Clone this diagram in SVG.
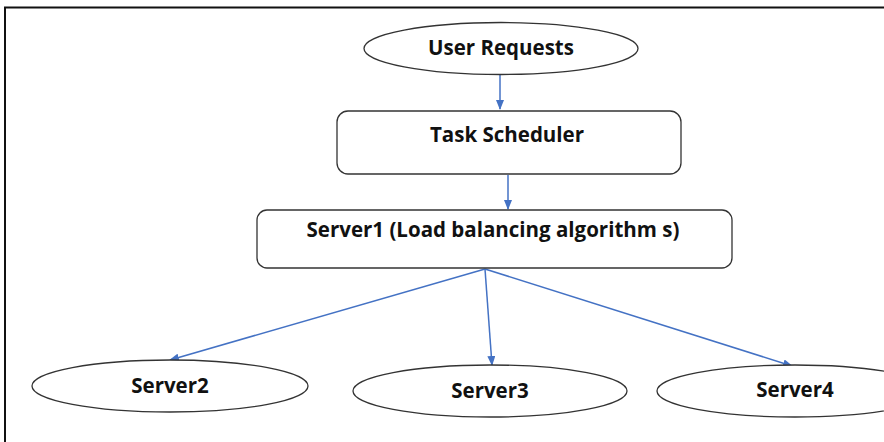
<svg xmlns="http://www.w3.org/2000/svg" width="884" height="442" viewBox="0 0 884 442">
<defs>
<marker id="ah" markerWidth="10" markerHeight="8" refX="9" refY="4" orient="auto" markerUnits="userSpaceOnUse">
<path d="M0,0 L10,4 L0,8 Z" fill="#4472C4"/>
</marker>
<style>
.n{fill:#fff;stroke:#333;stroke-width:1.3}
.t{font-family:"Open Sans","Liberation Sans",sans-serif;font-weight:bold;font-size:20.5px;fill:#111;text-anchor:middle}
.c{stroke:#4472C4;stroke-width:1.5;fill:none;marker-end:url(#ah)}
</style>
</defs>
<rect x="0" y="0" width="884" height="442" fill="#fff"/>
<path d="M5,460 L5,7.5 L900,7.5" fill="none" stroke="#111" stroke-width="2"/>
<g id="connectors">
<line class="c" x1="500" y1="75" x2="500" y2="109"/>
<line class="c" x1="508" y1="175" x2="508" y2="209"/>
<line class="c" x1="485" y1="269" x2="170" y2="360"/>
<line class="c" x1="485" y1="269" x2="492" y2="365"/>
<line class="c" x1="485" y1="269" x2="792" y2="366"/>
</g>
<g id="user-requests">
<ellipse class="n" cx="501" cy="48.5" rx="137" ry="26"/>
<text class="t" x="501" y="55">User Requests</text>
</g>
<g id="task-scheduler">
<rect class="n" x="337" y="111" width="344" height="63" rx="11"/>
<text class="t" x="507" y="142">Task Scheduler</text>
</g>
<g id="server1">
<rect class="n" x="257" y="210" width="475" height="58" rx="10"/>
<text class="t" x="493" y="237">Server1 (Load balancing algorithm s)</text>
</g>
<g id="server2">
<ellipse class="n" cx="170" cy="386" rx="138" ry="26"/>
<text class="t" x="170" y="393">Server2</text>
</g>
<g id="server3">
<ellipse class="n" cx="490" cy="391" rx="137" ry="26"/>
<text class="t" x="490" y="398">Server3</text>
</g>
<g id="server4">
<ellipse class="n" cx="795" cy="391" rx="138" ry="26"/>
<text class="t" x="795" y="397">Server4</text>
</g>
</svg>
